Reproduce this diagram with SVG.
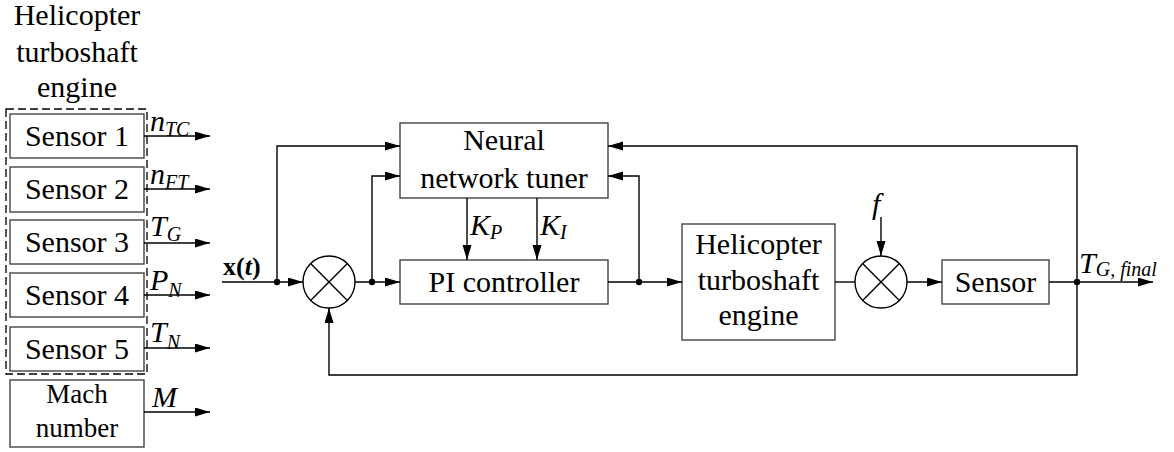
<svg xmlns="http://www.w3.org/2000/svg" width="1174" height="452" viewBox="0 0 1174 452">
<defs>
<marker id="ah" markerUnits="userSpaceOnUse" markerWidth="15" markerHeight="10" refX="15" refY="4.5" orient="auto">
<path d="M0,0 L15,4.5 L0,9 z" fill="#000"/>
</marker>
<style>
.box{fill:#fff;stroke:#444;stroke-width:1.4}
.ln{fill:none;stroke:#000;stroke-width:1.4}
.arr{fill:none;stroke:#000;stroke-width:1.4;marker-end:url(#ah)}
text{font-family:'Liberation Serif','DejaVu Serif',serif}
.t{font-size:30px;fill:#000;text-anchor:middle}
.it{font-size:30px;font-style:italic;fill:#000}
.sub{font-size:20px}
.sj{fill:#fff;stroke:#000;stroke-width:1.4}
</style>
</defs>
<rect width="1174" height="452" fill="#fff"/>

<g id="title">
<text class="t" x="77" y="25">Helicopter</text>
<text class="t" x="77" y="62">turboshaft</text>
<text class="t" x="77" y="97">engine</text>
</g>
<rect id="engine-group" x="6" y="109" width="141" height="265" fill="none" stroke="#000" stroke-width="1.3" stroke-dasharray="8,4"/>

<g id="sensor1"><rect class="box" x="10" y="114" width="134" height="44"/><text class="t" x="77" y="146">Sensor 1</text></g>
<g id="sensor2"><rect class="box" x="10" y="167" width="134" height="45"/><text class="t" x="77" y="199">Sensor 2</text></g>
<g id="sensor3"><rect class="box" x="10" y="220" width="134" height="44"/><text class="t" x="77" y="252">Sensor 3</text></g>
<g id="sensor4"><rect class="box" x="10" y="273" width="134" height="44"/><text class="t" x="77" y="305">Sensor 4</text></g>
<g id="sensor5"><rect class="box" x="10" y="327" width="134" height="44"/><text class="t" x="77" y="359">Sensor 5</text></g>
<g id="mach"><rect class="box" x="10" y="380" width="134" height="67"/><text class="t" x="77" y="403" style="font-size:27px">Mach</text><text class="t" x="77" y="437" style="font-size:27px">number</text></g>

<g id="neural"><rect class="box" x="400" y="123" width="208" height="75"/><text class="t" x="504" y="150">Neural</text><text class="t" x="504" y="188">network tuner</text></g>
<g id="pi"><rect class="box" x="400" y="260" width="208" height="44"/><text class="t" x="504" y="292">PI controller</text></g>
<g id="engine"><rect class="box" x="682" y="224" width="153" height="116"/><text class="t" x="758.5" y="254">Helicopter</text><text class="t" x="758.5" y="290">turboshaft</text><text class="t" x="758.5" y="325">engine</text></g>
<g id="sensor"><rect class="box" x="942" y="260" width="107" height="44"/><text class="t" x="995.5" y="292">Sensor</text></g>
<g id="sum1"><circle class="sj" cx="329" cy="282" r="26"/><path class="ln" d="M310.6,263.6 L347.4,300.4 M347.4,263.6 L310.6,300.4"/></g>
<g id="sum2"><circle class="sj" cx="881" cy="282" r="26"/><path class="ln" d="M862.6,263.6 L899.4,300.4 M899.4,263.6 L862.6,300.4"/></g>

<g id="connectors">
<path class="arr" d="M144,136 H210"/>
<path class="arr" d="M144,189 H210"/>
<path class="arr" d="M144,243 H210"/>
<path class="arr" d="M144,295 H210"/>
<path class="arr" d="M144,348 H210"/>
<path class="arr" d="M144,412 H210"/>
<path class="arr" d="M222,282 H303"/>
<path class="arr" d="M277,282 V146 H400"/>
<path class="arr" d="M355,282 H400"/>
<path class="arr" d="M372,282 V176 H400"/>
<path class="arr" d="M467,198 V260"/>
<path class="arr" d="M537,198 V260"/>
<path class="arr" d="M608,282 H682"/>
<path class="arr" d="M639,282 V176 H608"/>
<path class="ln" d="M835,282 H855"/>
<path class="arr" d="M881,217 V256"/>
<path class="arr" d="M907,282 H942"/>
<path class="arr" d="M1049,282 H1153"/>
<path class="arr" d="M1077,282 V146 H608"/>
<path class="arr" d="M1077,282 V375 H329 V308"/>
<circle cx="277" cy="282" r="3.2"/>
<circle cx="372" cy="282" r="3.2"/>
<circle cx="639" cy="282" r="3.2"/>
<circle cx="1077" cy="282" r="3.2"/>
</g>

<g id="labels">
<text class="it" x="150" y="131">n<tspan class="sub" dy="5">TC</tspan></text>
<text class="it" x="150" y="184">n<tspan class="sub" dy="5">FT</tspan></text>
<text class="it" x="150" y="236">T<tspan class="sub" dy="5">G</tspan></text>
<text class="it" x="150" y="290">P<tspan class="sub" dy="7">N</tspan></text>
<text class="it" x="150" y="342">T<tspan class="sub" dy="7">N</tspan></text>
<text class="it" x="152" y="407">M</text>
<text x="223" y="275" style="font-size:26px;font-weight:bold">x(<tspan font-style="italic">t</tspan>)</text>
<text class="it" x="470" y="235">K<tspan class="sub" dy="4">P</tspan></text>
<text class="it" x="540" y="235">K<tspan class="sub" dy="4">I</tspan></text>
<text class="it" x="872" y="214">f</text>
<text class="it" x="1079" y="273">T<tspan class="sub" dy="3">G, final</tspan></text>
</g>
</svg>
